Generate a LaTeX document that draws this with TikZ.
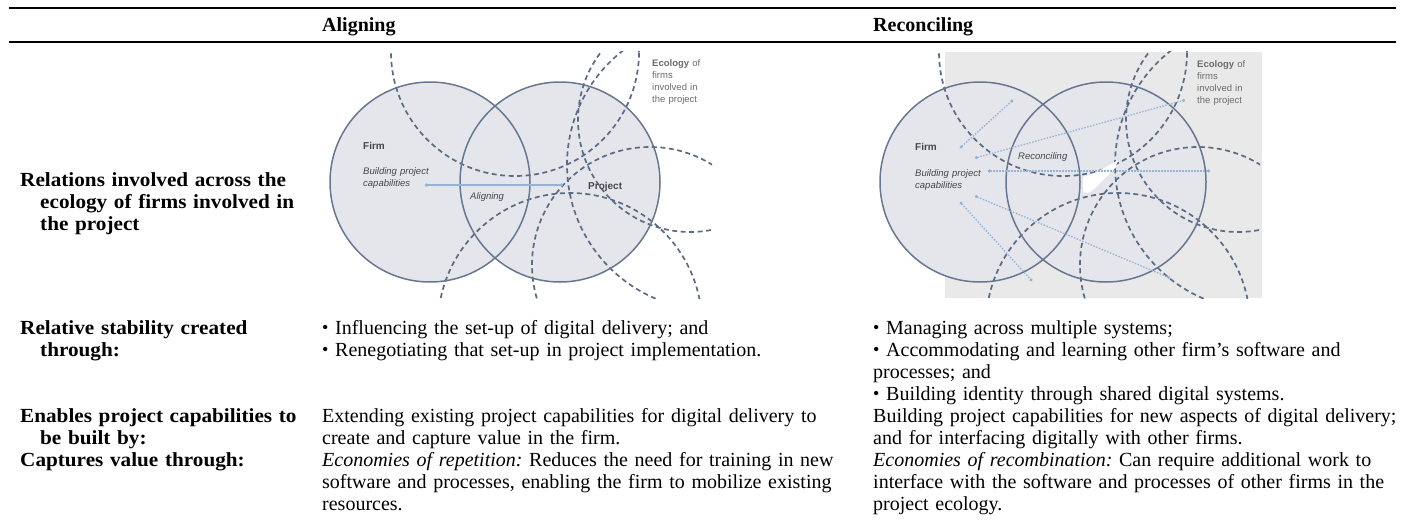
\documentclass[tikz,border=0pt]{standalone}
\usepackage{fontspec}
\setmainfont{Liberation Serif}
\newfontfamily\labelfont{Liberation Serif}[FakeStretch=1.06]
\newfontfamily\diafont{Liberation Sans}
\usepackage{graphicx}
\usepackage{xcolor}
\usepackage{tikz}
\usetikzlibrary{positioning,arrows.meta}

\definecolor{ringblue}{RGB}{104,119,145}
\definecolor{dashblue}{RGB}{92,107,133}
\definecolor{zonefill}{RGB}{228,230,235}
\definecolor{ecobg}{RGB}{233,233,233}
\definecolor{flowblue}{RGB}{150,178,214}
\definecolor{diatext}{RGB}{70,70,70}

\newcommand{\itm}{\raisebox{0.6pt}{\scalebox{0.9}{\textbullet}}\ }
\frenchspacing

\begin{document}
\begin{tikzpicture}[x=1pt, y=-1pt,
  zone/.style={circle, minimum size=200pt, inner sep=0pt, fill=zonefill},
  ring/.style={circle, minimum size=200pt, inner sep=0pt, draw=ringblue, line width=1.5pt},
  other/.style={draw=dashblue, line width=1.7pt, dash pattern=on 5pt off 3.5pt},
  flow/.style={flowblue, line width=1.3pt, {Circle[length=3pt]}-{Circle[length=3pt]}},
  dia/.style={inner sep=0pt, anchor=base west, text=diatext, text width=90pt, align=left, font=\diafont\fontsize{9.5}{12}\selectfont},
  diab/.style={dia, font=\diafont\bfseries\fontsize{10}{12}\selectfont},
  diai/.style={dia, font=\diafont\itshape\fontsize{9.5}{12}\selectfont},
  cell/.style={inner sep=0pt, anchor=base west, text width=560pt, align=left, font=\fontsize{20}{22}\selectfont},
  rowhead/.style={cell, text width=300pt, font=\labelfont\bfseries\fontsize{20}{22}\selectfont},
  colhead/.style={inner sep=0pt, anchor=base west, font=\bfseries\fontsize{20}{22}\selectfont}
]
\useasboundingbox (0,0) rectangle (1404,522);

% rules and column heads
\draw[line width=1.2pt] (9,8) -- (1396,8);
\draw[line width=1.2pt] (9,42) -- (1396,42);
\node[colhead] (hAlign) at (322,31) {Aligning};
\node[colhead] (hRecon) at (873,31) {Reconciling};

% diagram backgrounds
\fill[ecobg] (945,52) rectangle (1262,298);
\node[zone] (firmA) at (430,182) {};
\node[zone] (projA) at (560,182) {};
\node[zone] (firmB) at (980,182) {};
\node[zone] (projB) at (1106,182) {};

% ecology of other firms (dashed)
\foreach \dx in {0,548} {
  \begin{scope}[xshift=\dx pt]
    \clip (328,51) rectangle (712,298);
    \draw[other] (515,52) circle[radius=124pt];
    \draw[other] (712,165) circle[radius=145pt];
    \draw[other] (650,265) circle[radius=118pt];
    \draw[other] (570,325) circle[radius=132pt];
    \draw[other] (690,120) circle[radius=112pt];
  \end{scope}
}
\fill[white] (1083,177) -- (1097,172) -- (1113,163) -- (1118,160) -- (1115,168)
  -- (1100,183) -- (1093,190) -- (1088,193) -- (1083,192) -- cycle;

\node[ring] at (firmA.center) {};
\node[ring] at (projA.center) {};
\node[ring] at (firmB.center) {};
\node[ring] at (projB.center) {};

% Aligning diagram
\node[diab] (firmlblA) at (363,149) {Firm};
\node[diai] (capA) at (363,174) {Building project\\capabilities};
\node[diai] (alignA) at (470,199) {Aligning};
\node[diab] (projlblA) at (588,189) {Project};
\node[dia, text=diatext!80] (ecoA) at (652,66) {\textbf{Ecology} of\\firms\\involved in\\the project};
\coordinate (aL) at (425,185);
\coordinate (aR) at (563,185);
\draw[flow] (aL) -- (aR);

% Reconciling diagram
\node[diab] (firmlblB) at (915,150) {Firm};
\node[diai] (capB) at (915,176) {Building project\\capabilities};
\node[diai] (reconB) at (1018,159) {Reconciling};
\node[dia, text=diatext!80] (ecoB) at (1197,67) {\textbf{Ecology} of\\firms\\involved in\\the project};
\foreach \i/\sx/\sy/\tx/\ty in {1/960/148/1013/100, 2/975/158/1185/100,
    3/988/171/1210/171, 4/960/202/1032/281, 5/975/196/1170/278} {
  \coordinate (s\i) at (\sx,\sy);
  \coordinate (t\i) at (\tx,\ty);
  \draw[flow, dash pattern=on 1.5pt off 1.5pt] (s\i) -- (t\i);
}

% table rows
\node[rowhead] (rRel) at (20,186) {Relations involved across the\\\hspace*{20pt}ecology of firms involved in\\\hspace*{20pt}the project};

\node[rowhead] (rStab) at (20,334) {Relative stability created\\\hspace*{20pt}through:};
\node[cell] (aStab) at (322,334) {\itm Influencing the set-up of digital delivery; and\\\itm Renegotiating that set-up in project implementation.};
\node[cell] (cStab) at (873,334) {\itm Managing across multiple systems;\\\itm Accommodating and learning other firm’s software and\\processes; and\\\itm Building identity through shared digital systems.};

\node[rowhead] (rCap) at (20,422) {Enables project capabilities to\\\hspace*{20pt}be built by:};
\node[cell] (aCap) at (322,422) {Extending existing project capabilities for digital delivery to\\create and capture value in the firm.};
\node[cell] (cCap) at (873,422) {Building project capabilities for new aspects of digital delivery;\\and for interfacing digitally with other firms.};

\node[rowhead] (rVal) at (20,466) {Captures value through:};
\node[cell] (aVal) at (322,466) {\textit{Economies of repetition:} Reduces the need for training in new\\software and processes, enabling the firm to mobilize existing\\resources.};
\node[cell] (cVal) at (873,466) {\textit{Economies of recombination:} Can require additional work to\\interface with the software and processes of other firms in the\\project ecology.};

\end{tikzpicture}
\end{document}
